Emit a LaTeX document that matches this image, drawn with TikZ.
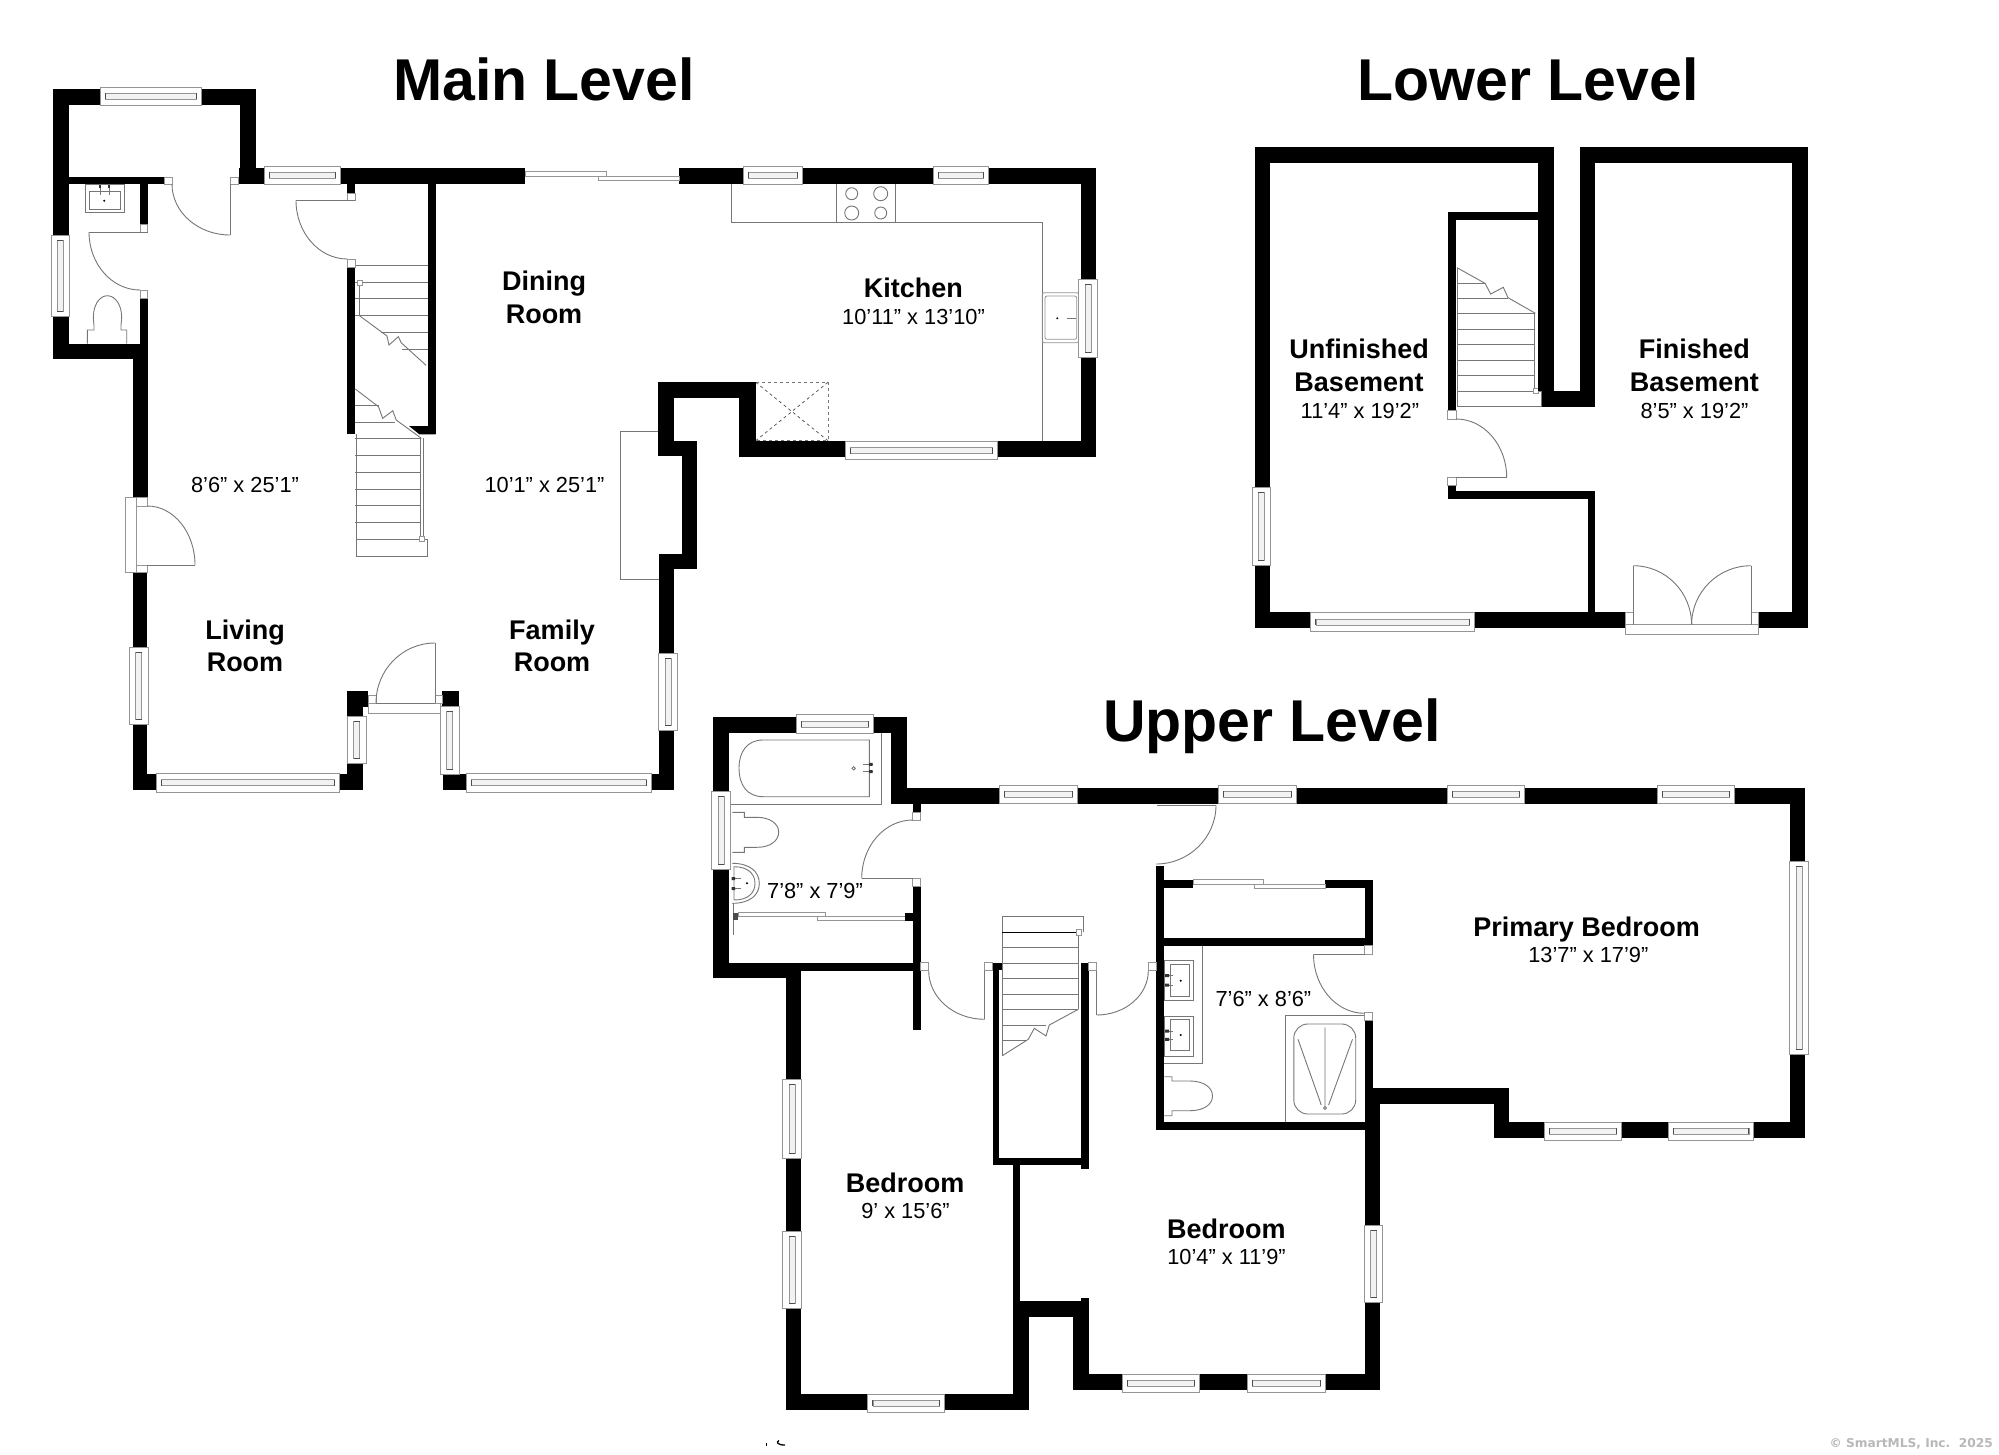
\documentclass[tikz,border=0pt]{standalone}
\usepackage{fontspec}
\setmainfont{Liberation Sans}
\newfontfamily\credit{DejaVu Sans}
\usetikzlibrary{calc}
\definecolor{thin}{HTML}{767676}
\definecolor{winline}{HTML}{959595}
\tikzset{
  fine/.style={draw=thin,line width=0.9pt},
  winbox/.style={draw=winline,fill=white,line width=0.9pt},
  winband/.style={draw=winline,fill=black!5,line width=0.6pt},
  wintick/.style={draw=black!70,line width=0.8pt},
  jambbox/.style={draw=winline,fill=white,line width=0.9pt},
  titletxt/.style={font=\fontsize{59}{60}\selectfont\bfseries,anchor=base,inner sep=0pt},
  roomtxt/.style={font=\fontsize{27}{33}\selectfont\bfseries,anchor=base,inner sep=0pt},
  dimtxt/.style={font=\fontsize{21.8}{26}\selectfont,anchor=base,inner sep=0pt},
  credittxt/.style={font=\fontsize{12.2}{15}\credit\bfseries,text=black!28,anchor=base east,inner sep=0pt}
}
\newcommand{\wallr}[4]{\fill[black] (#1,#2) rectangle (#3,#4);}
\newcommand{\winh}[4]{%
  \pgfmathsetmacro{\wnA}{#1+5}\pgfmathsetmacro{\wnB}{#3-5}%
  \pgfmathsetmacro{\wnC}{(#2+#4)/2-3}\pgfmathsetmacro{\wnD}{(#2+#4)/2+3}%
  \filldraw[winbox] (#1,#2) rectangle (#3,#4);
  \filldraw[winband] (\wnA,\wnC) rectangle (\wnB,\wnD);
  \draw[wintick] (\wnA,\wnC) -- (\wnA,\wnD) (\wnB,\wnC) -- (\wnB,\wnD);}
\newcommand{\winv}[4]{%
  \pgfmathsetmacro{\wnA}{#2+5}\pgfmathsetmacro{\wnB}{#4-5}%
  \pgfmathsetmacro{\wnC}{(#1+#3)/2-3}\pgfmathsetmacro{\wnD}{(#1+#3)/2+3}%
  \filldraw[winbox] (#1,#2) rectangle (#3,#4);
  \filldraw[winband] (\wnC,\wnA) rectangle (\wnD,\wnB);
  \draw[wintick] (\wnC,\wnA) -- (\wnD,\wnA) (\wnC,\wnB) -- (\wnD,\wnB);}
\newcommand{\jmb}[4]{\filldraw[jambbox] (#1,#2) rectangle (#3,#4);}
% quarter arc: from point 1 to point 3 with corner point 2
\newcommand{\doorarc}[6]{\draw[fine] (#1,#2) .. controls ($(#1,#2)!0.552!(#3,#4)$) and ($(#5,#6)!0.552!(#3,#4)$) .. (#5,#6);}
\newcommand{\fineline}[4]{\draw[fine] (#1,#2) -- (#3,#4);}
\begin{document}
\begin{tikzpicture}[x=1pt,y=-1pt]
\useasboundingbox (0,0) rectangle (1999,1454);
\fill[white] (0,0) rectangle (1999,1454);

% ---------- titles
\node[titletxt] (tmain) at (544,100) {Main Level};
\node[titletxt] (tlower) at (1528,100) {Lower Level};
\node[titletxt] (tupper) at (1272,741.7) {Upper Level};

% ========== MAIN LEVEL ==========
% stairs (under walls)
\foreach \yy in {265.7,282,298.7,315.7} {\fineline{355.3}{\yy}{427.7}{\yy}}
\fineline{381}{332.3}{427.7}{332.3}
\fineline{402}{349}{427.7}{349}
\draw[fine] (359.5,315.7) -- (387,336) -- (389,345) -- (398.3,336.7) -- (401.2,342.7) -- (426,365.3);
\draw[fine] (359.5,282) -- (359.5,315.7);
\jmb{357.5}{280}{362.5}{285}
\fineline{355.3}{405.3}{378.5}{405.3}
\fineline{355.3}{422.3}{395}{422.3}
\foreach \yy in {438.7,455.7,472.3,489,505.7,522.3} {\fineline{355.3}{\yy}{420.6}{\yy}}
\draw[fine] (355.3,389) -- (378.5,406.7) -- (382.7,418.3) -- (392.8,410.7) -- (396.2,420) -- (421.4,438.3);
\draw[fine] (420.6,438.3) -- (420.6,539);
\draw[fine] (423.5,438.3) -- (423.5,539);
\draw[fine] (356,539) -- (427.3,539) -- (427.3,556) -- (356,556) -- cycle;
\draw[fine] (356,434) -- (356,556);
\jmb{419.5}{536.5}{424.5}{541.5}

% counters and fixtures
\draw[fine] (731,184) -- (731,222.7) -- (1042.3,222.7) -- (1042.3,440.7);
\draw[fine] (836.7,184) -- (836.7,222.7) (895.3,184) -- (895.3,222.7);
\draw[fine] (851.7,193.7) circle (6) (880.7,193.7) circle (7) (851.7,213) circle (7) (880.7,213) circle (6);
\draw[draw=winline,line width=0.8pt,rounded corners=2pt] (1042.3,292.7) rectangle (1078.7,342.7);
\draw[draw=winline,line width=0.8pt,rounded corners=2pt] (1045,296) rectangle (1076.7,339.3);
\fill[thin] (1057.3,318.3) circle (1.1);
\draw[fine] (1067,318.3) -- (1076,318.3);
\draw[draw=thin,dashed,line width=0.8pt] (755.7,382.3) rectangle (828,440.7);
\draw[draw=black!70,dashed,line width=0.7pt] (755.7,382.3) -- (828,440.7) (828,382.3) -- (755.7,440.7);
\draw[fine] (658.6,431) -- (620,431) -- (620,579) -- (658.6,579);

% half-bath sink and toilet
\draw[fine] (85.3,184) rectangle (124,212.7);
\draw[fine] (89.3,191) rectangle (120.7,209);
\draw[fine] (100,185) -- (100,194.7) (109,185) -- (109,194.7);
\draw[line width=2pt,black!80] (100,185) -- (100,188) (109,185) -- (109,188);
\fill[thin] (104.3,200.7) circle (1.1);
\draw[fine] (87.3,343.7) -- (87.3,330) -- (94,330) -- (94,325) .. controls (91,305) and (100,295.7) .. (107.3,295.7) .. controls (115,295.7) and (124,305) .. (121,325) -- (121,330) -- (126.7,330) -- (126.7,343.7);

% walls
\wallr{53.3}{89.3}{256}{105}
\wallr{53.3}{89.3}{69.3}{359}
\wallr{240}{89.3}{256}{184}
\wallr{238.7}{168}{264.4}{184}
\wallr{69.3}{176.7}{164}{184}
\wallr{140}{184}{147.7}{224}
\wallr{140}{298}{147.7}{344}
\wallr{53.3}{343.7}{147.7}{359}
\wallr{132.7}{344}{147.7}{497}
\wallr{132.7}{572}{147.4}{790}
\wallr{132.7}{774}{156}{790}
\wallr{339}{774}{363}{790}
\wallr{347.4}{691}{363}{717}
\wallr{347.4}{691}{368}{706.7}
\wallr{347.4}{763.7}{363}{790}
\wallr{442}{691}{458.6}{706.7}
\wallr{443}{774}{466}{790}
\wallr{651}{773.7}{674}{790}
\wallr{658.6}{554}{674}{790}
\wallr{658.6}{554}{697.4}{569.3}
\wallr{681.7}{441}{697.4}{569.3}
\wallr{658}{441}{697.4}{456}
\wallr{658}{381.7}{674}{456}
\wallr{658}{381.7}{755.7}{398}
\wallr{739.3}{381.7}{755.7}{457}
\wallr{739.3}{440.7}{1096.3}{457}
\wallr{1080.7}{168.3}{1096.3}{457}
\wallr{340}{168.3}{525}{184}
\wallr{679.3}{168.3}{1096.3}{184}
\wallr{427.7}{184}{435.7}{434.3}
\wallr{347.3}{184}{355.3}{193}
\wallr{347.3}{267}{355.3}{434.3}
\fill[black] (409,426) -- (435.7,426) -- (435.7,434.3) -- (419.3,434.3) -- cycle;

% windows
\winh{100}{87}{201}{105}
\winh{264.4}{166}{340}{184.3}
\winh{743.3}{166}{802}{184}
\winh{933.3}{166}{988.7}{184}
\winh{845.7}{441.7}{997.7}{459.7}
\winh{156}{773}{339.4}{792}
\winh{466}{773}{651}{792}
\winv{51}{235}{69.3}{316}
\winv{1078.7}{279.3}{1097.3}{357.3}
\winv{129.5}{647}{148}{724}
\winv{347.4}{716.7}{366}{763.7}
\winv{440}{706.7}{459.5}{774}
\winv{658.6}{653}{677}{730}
% sliding door
\filldraw[winbox] (525,171.7) rectangle (606.6,176);
\filldraw[winbox] (598,176) rectangle (679.3,180.3);

% doors and jambs
\jmb{164}{177}{172}{184}
\jmb{230}{177}{238.7}{184}
\fineline{230}{184}{230}{235}
\doorarc{172}{184}{172}{235}{230}{235}
\jmb{140}{224}{147.7}{232}
\jmb{140}{290}{147.7}{298}
\fineline{147.7}{232}{89}{232}
\doorarc{89}{232}{89}{290}{140}{290}
\jmb{347.3}{193}{355.3}{200.3}
\jmb{347.3}{259}{355.3}{267}
\fineline{355.3}{200.3}{296}{200.3}
\doorarc{296}{200.3}{296}{259}{347.3}{259}
\filldraw[winbox] (125.5,497) rectangle (136.3,572);
\jmb{136.3}{497}{147.4}{506}
\jmb{136.3}{565}{147.4}{572}
\fineline{147.4}{565}{195}{565}
\doorarc{195}{565}{195}{506}{147.4}{506}
\filldraw[winbox] (368,703) rectangle (440.7,713);
\jmb{368}{695}{376}{703}
\jmb{435}{695}{442}{703}
\fineline{435}{703}{435}{643}
\fineline{376}{703}{435}{703}
\doorarc{435}{643}{376}{643}{376}{703}

% labels
\node[roomtxt] (rdin1) at (544,290) {Dining};
\node[roomtxt] (rdin2) at (544,323.3) {Room};
\node[dimtxt] (dliv) at (245,492.7) {8’6” x 25’1”};
\node[dimtxt] (dfam) at (544.5,492.7) {10’1” x 25’1”};
\node[roomtxt] (rliv1) at (245,639) {Living};
\node[roomtxt] (rliv2) at (245,671.7) {Room};
\node[roomtxt] (rfam1) at (552,639) {Family};
\node[roomtxt] (rfam2) at (552,671.7) {Room};
\node[roomtxt] (rkit) at (913.3,297.7) {Kitchen};
\node[dimtxt] (dkit) at (913.5,324) {10’11” x 13’10”};

% ========== LOWER LEVEL ==========
\draw[fine] (1457,267.7) -- (1457,406.7) -- (1541.6,406.7) -- (1541.6,391.3);
\fineline{1457}{283.3}{1485}{283.3}
\fineline{1457}{298}{1508}{298}
\foreach \yy in {313.7,329.3,344.7,360,375.7,391.3} {\fineline{1457}{\yy}{1534.7}{\yy}}
\fineline{1534.7}{391.3}{1541.6}{391.3}
\draw[fine] (1457,267.7) -- (1485,283.3) -- (1490.7,294) -- (1503.3,287.3) -- (1508,297.7) -- (1535.4,313.3);
\fineline{1534.7}{313.3}{1534.7}{391}
\jmb{1533.3}{388.5}{1538.3}{393.5}

\wallr{1254.5}{147.3}{1553.8}{163}
\wallr{1254.5}{147.3}{1270.2}{628.3}
\wallr{1254.5}{612.3}{1625.4}{628.3}
\wallr{1537.7}{147.3}{1553.8}{391.3}
\wallr{1541.6}{391.3}{1595}{406.7}
\wallr{1579.8}{147.3}{1595}{406.7}
\wallr{1579.8}{147.3}{1808.3}{163}
\wallr{1792.2}{147.3}{1808.3}{628.3}
\wallr{1758.6}{612.3}{1808.3}{628.3}
\wallr{1587.5}{491}{1595}{612.3}
\wallr{1447.8}{491}{1595}{499}
\wallr{1447.8}{485}{1456.2}{499}
\wallr{1447.8}{212.3}{1537.7}{220}
\wallr{1447.8}{212.3}{1456.2}{410.7}
\winh{1310.8}{612.3}{1474.2}{631.3}
\winv{1252.2}{487.7}{1270.2}{565}
\jmb{1447.8}{410.7}{1456.2}{419}
\jmb{1447.8}{477.7}{1456.2}{485}
\fineline{1456.2}{477.7}{1506.7}{477.7}
\doorarc{1506.7}{477.7}{1506.7}{419}{1456.2}{419}
\filldraw[winbox] (1625.4,624.7) rectangle (1758.6,634.7);
\jmb{1625.4}{612.3}{1633.4}{624.7}
\jmb{1751}{612.3}{1758.6}{624.7}
\fineline{1633.4}{624.7}{1633.4}{565.7}
\fineline{1751}{624.7}{1751}{565.7}
\doorarc{1633.4}{565.7}{1691.6}{565.7}{1691.6}{624.7}
\doorarc{1751}{565.7}{1691.6}{565.7}{1691.6}{624.7}

\node[roomtxt] (runf1) at (1359,358.3) {Unfinished};
\node[roomtxt] (runf2) at (1359,391.7) {Basement};
\node[dimtxt] (dunf) at (1359.9,418.3) {11’4” x 19’2”};
\node[roomtxt] (rfin1) at (1694.3,358.3) {Finished};
\node[roomtxt] (rfin2) at (1694.3,391.7) {Basement};
\node[dimtxt] (dfin) at (1694.5,418.3) {8’5” x 19’2”};

% ========== UPPER LEVEL ==========
% tub
\draw[fine] (881.7,733.3) -- (881.7,804) -- (729,804);
\draw[fine] (763,740) -- (869.3,740) -- (869.3,796.7) -- (763.3,796.7) .. controls (747,796.7) and (739,785) .. (739,768) .. controls (739,752) and (747,740) .. (763,740);
\draw[fine] (853.7,768.3) circle (1.7);
\draw[fine] (863,764.3) -- (872.7,764.3) (863,771.7) -- (872.7,771.7);
\fill[black!80] (869,762.8) rectangle (872.7,765.8) (869,770.2) rectangle (872.7,773.2);
% toilet + basin
\draw[fine] (732.3,812.3) -- (744.3,812.3) -- (744.3,817.3) -- (757,817.3) .. controls (770,817.3) and (778.7,824) .. (778.7,832) .. controls (778.7,841) and (770,847.3) .. (757,847.3) -- (744.3,847.3) -- (744.3,852.3) -- (732.3,852.3);
\draw[fine] (732.3,863.3) .. controls (750,863.3) and (759.3,872) .. (759.3,883.3) .. controls (759.3,895) and (750,903.3) .. (732.3,903.3);
\draw[fine] (734,866.7) .. controls (748,866.7) and (755,874) .. (755,883.3) .. controls (755,893) and (748,900) .. (734,900) -- cycle;
\draw[fine] (731.7,878.3) -- (740.7,878.3) (731.7,888.3) -- (740.7,888.3);
\fill[black!80] (731.7,877) rectangle (735,880) (731.7,887) rectangle (735,890);
\fill[thin] (747,883.3) circle (1.1);
\fineline{733.3}{903}{733.3}{935}
% closet rails
\filldraw[winbox] (738.3,912.7) rectangle (825.7,916.7);
\filldraw[winbox] (817.3,916.7) rectangle (905,920.7);
\fill[black!70] (733.3,913.3) rectangle (738.3,920);
\wallr{905}{912.7}{912.7}{920.7}

% upper stair
\draw[fine] (1002.3,1055.7) -- (1002.3,916.7) -- (1083.3,916.7) -- (1083.3,932.3);
\draw[line width=1pt,black] (1002.3,932.3) -- (1078.3,932.3);
\foreach \yy in {947.7,963.3,978.3,994,1009.3} {\fineline{1002.3}{\yy}{1078.3}{\yy}}
\fineline{1002.3}{1025}{1046}{1025}
\fineline{1002.3}{1040}{1026}{1040}
\draw[fine] (1002.3,1055.7) -- (1028.3,1039.3) -- (1034.3,1028.3) -- (1046,1036) -- (1049.3,1025) -- (1078.3,1009.3);
\fineline{1078.3}{932.3}{1078.3}{1009.3}
\jmb{1076}{929.5}{1081}{935}

% ensuite
\draw[fine] (1202,945.7) -- (1202,1063.3) -- (1164.3,1063.3);
\foreach \ya/\yb/\yc/\yd/\fa/\fb/\dt in {960.7/1000/964.3/996/975.7/985/980.7,1016/1056/1019/1050.7/1031/1039.3/1035} {
  \draw[fine] (1164.3,\ya) rectangle (1193.2,\yb);
  \draw[fine] (1170.7,\yc) rectangle (1189.3,\yd);
  \draw[fine] (1165,\fa) -- (1173,\fa) (1165,\fb) -- (1173,\fb);
  \fill[black!80] (1165,\fa-1.5) rectangle (1169,\fa+1.5) (1165,\fb-1.5) rectangle (1169,\fb+1.5);
  \fill[thin] (1180.7,\dt) circle (1.1);
}
\draw[fine] (1285.5,1122.3) -- (1285.5,1015.7) -- (1364.5,1015.7);
\draw[fine,rounded corners=14pt] (1293.8,1024) rectangle (1355.7,1114);
\draw[fine] (1325,1027.3) -- (1325,1106.7) (1298,1039.3) -- (1321.3,1105) (1352.5,1039.3) -- (1328.6,1105);
\draw[fine] (1325,1108) circle (1.5);
\draw[fine] (1164.3,1076.7) -- (1172,1076.7) -- (1172,1081) -- (1190,1081) .. controls (1203,1081) and (1212.5,1087) .. (1212.5,1096) .. controls (1212.5,1105) and (1203,1110.7) .. (1190,1110.7) -- (1172,1110.7) -- (1172,1115.7) -- (1164.3,1115.7);

% walls
\wallr{712.7}{717.3}{906.7}{733.3}
\wallr{712.7}{717.3}{729}{978.3}
\wallr{891}{717.3}{906.7}{803.5}
\wallr{891}{788.3}{1805.2}{803.5}
\wallr{1789.6}{788.3}{1805.2}{1137.7}
\wallr{1493.5}{1122.3}{1805.2}{1137.7}
\wallr{1493.5}{1088.3}{1509}{1137.7}
\wallr{1364.5}{1088.3}{1509}{1104}
\wallr{712.7}{962.5}{786}{978.3}
\wallr{712.7}{962.5}{920.7}{970.7}
\wallr{786}{962.5}{801.3}{1410}
\wallr{785.7}{1394.3}{1029}{1410}
\wallr{1013}{1165}{1020.4}{1300.7}
\wallr{1013}{1300.7}{1029}{1410}
\wallr{1013}{1300.7}{1088.6}{1316.7}
\wallr{1081.2}{1298}{1088.6}{1316.7}
\wallr{1073}{1300.7}{1088.6}{1389.7}
\wallr{1073}{1374.3}{1380.4}{1389.7}
\wallr{1364.5}{1088.3}{1380.4}{1389.7}
\wallr{1364.5}{1020.7}{1372.7}{1130}
\wallr{912.7}{803}{920.7}{812}
\wallr{912.7}{886}{920.7}{1030}
\wallr{992.7}{963}{999.2}{1165}
\wallr{992.7}{963}{1002.3}{970}
\wallr{1081.2}{963}{1088.6}{1169.3}
\wallr{992.7}{1157.7}{1088.6}{1165}
\wallr{1156}{865.7}{1164.3}{1130}
\wallr{1156}{1122.3}{1372.7}{1130}
\wallr{1164}{880}{1193}{888.3}
\wallr{1325}{880}{1372.7}{888.3}
\wallr{1364.5}{880}{1372.7}{945.7}
\wallr{1164}{938.3}{1372.7}{945.7}

% windows
\winh{796.3}{714.7}{873.3}{733.3}
\winh{999.3}{785.3}{1077.3}{803.3}
\winh{1218.5}{785.3}{1296}{803.3}
\winh{1447}{785.3}{1524.2}{803.3}
\winh{1657}{785.3}{1734.5}{803.3}
\winh{1544}{1122}{1621}{1140.3}
\winh{1668}{1122}{1753.8}{1140.3}
\winh{1122}{1374}{1199.6}{1392.3}
\winh{1247}{1374}{1325}{1392.3}
\winh{867.8}{1394.3}{944.5}{1412.3}
\winv{711.7}{791.7}{730}{869.3}
\winv{1789.6}{861}{1808}{1054.3}
\winv{782.8}{1079.3}{801.3}{1158.3}
\winv{782.8}{1231.7}{801.3}{1308.7}
\winv{1364.5}{1225.7}{1382.9}{1302.7}
% closet slider
\filldraw[winbox] (1193,879.3) rectangle (1263,884);
\filldraw[winbox] (1254.7,884) rectangle (1325,888.3);

% doors and jambs
\jmb{912.7}{812}{920.7}{820}
\jmb{912.7}{878.3}{920.7}{886}
\fineline{912.7}{878.3}{861.7}{878.3}
\doorarc{861.7}{878.3}{861.7}{820}{912.7}{820}
\jmb{920.7}{962.7}{928.7}{970.7}
\jmb{984.7}{962.7}{992.7}{970.7}
\fineline{984.7}{970.7}{984.7}{1019.3}
\doorarc{928.7}{970.7}{928.7}{1019.3}{984.7}{1019.3}
\jmb{1088.7}{962.7}{1096.7}{970.7}
\jmb{1148.3}{962.7}{1156}{970.7}
\fineline{1096.7}{970.7}{1096.7}{1015}
\doorarc{1148.3}{970.7}{1148.3}{1015}{1096.7}{1015}
\fineline{1157}{805}{1216}{805}
\doorarc{1216}{805}{1216}{864}{1156}{864}
\jmb{1364.5}{945.7}{1372.7}{954.3}
\jmb{1364.5}{1012.7}{1372.7}{1020.7}
\fineline{1364.5}{954.3}{1313.5}{954.3}
\doorarc{1313.5}{954.3}{1313.5}{1013.3}{1364.5}{1013.3}

% labels
\node[dimtxt] (dbath) at (815,898.3) {7’8” x 7’9”};
\node[roomtxt] (rprim) at (1586.7,936.7) {Primary Bedroom};
\node[dimtxt] (dprim) at (1588.3,962.7) {13’7” x 17’9”};
\node[dimtxt] (dens) at (1263.4,1006.7) {7’6” x 8’6”};
\node[roomtxt] (rbed1) at (905,1192.3) {Bedroom};
\node[dimtxt] (dbed1) at (905.5,1218.3) {9’ x 15’6”};
\node[roomtxt] (rbed2) at (1226.3,1238.3) {Bedroom};
\node[dimtxt] (dbed2) at (1226.5,1264.3) {10’4” x 11’9”};

% specks and credit
\fill[black] (765.5,1442.5) rectangle (767,1445.5);
\draw[line width=1.3pt,black] (779,1440.5) .. controls (776,1442) and (777,1445) .. (785,1445);
\node[credittxt] (credit) at (1993,1447.3) {© SmartMLS, Inc.\ \ 2025};
\end{tikzpicture}
\end{document}
